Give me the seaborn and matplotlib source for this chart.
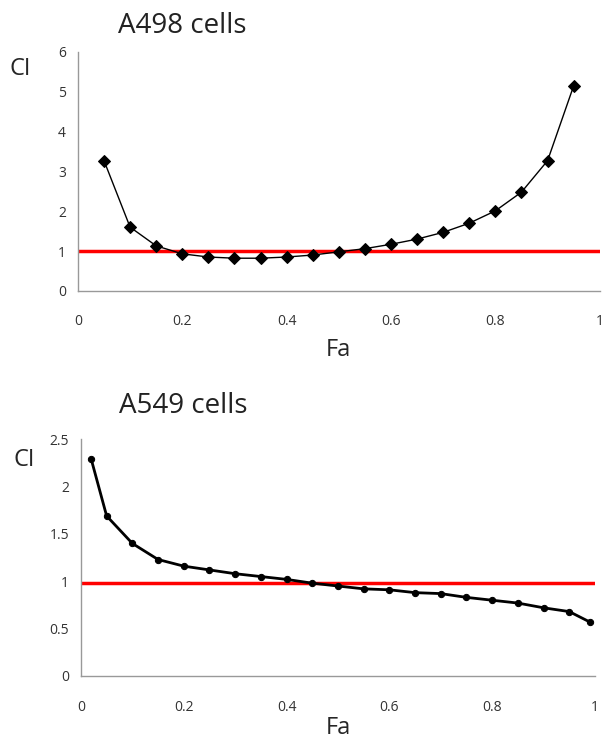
import pandas as pd
import matplotlib
matplotlib.use("Agg")
import matplotlib.pyplot as plt
import seaborn as sns

# A498 cells
fa_a498 = [0.05, 0.10, 0.15, 0.20, 0.25, 0.30, 0.35, 0.40, 0.45, 0.50,
           0.55, 0.60, 0.65, 0.70, 0.75, 0.80, 0.85, 0.90, 0.95]
ci_a498 = [3.27, 1.60, 1.13, 0.93, 0.85, 0.82, 0.82, 0.85, 0.90, 0.98,
           1.06, 1.17, 1.30, 1.47, 1.70, 2.01, 2.48, 3.27, 5.15]

# A549 cells
fa_a549 = [0.02, 0.05, 0.10, 0.15, 0.20, 0.25, 0.30, 0.35, 0.40, 0.45, 0.50,
           0.55, 0.60, 0.65, 0.70, 0.75, 0.80, 0.85, 0.90, 0.95, 0.99]
ci_a549 = [2.29, 1.69, 1.40, 1.23, 1.16, 1.12, 1.08, 1.05, 1.02, 0.98, 0.95,
           0.92, 0.91, 0.88, 0.87, 0.83, 0.80, 0.77, 0.72, 0.68, 0.57]

ref_a498 = 1.0
ref_a549 = 0.98

sns.set_style("white")
plt.rcParams["font.family"] = ["Open Sans", "DejaVu Sans"]

df1 = pd.DataFrame({"Fa": fa_a498, "CI": ci_a498})
df2 = pd.DataFrame({"Fa": fa_a549, "CI": ci_a549})

fig = plt.figure(figsize=(6.04, 7.42), dpi=100)
ax1 = fig.add_axes([0.129, 0.608, 0.864, 0.322])
ax2 = fig.add_axes([0.134, 0.089, 0.851, 0.319])


def style_axes(ax, yticks, ylabels):
    for s in ["top", "right"]:
        ax.spines[s].set_visible(False)
    for s in ["left", "bottom"]:
        ax.spines[s].set_color("#999999")
        ax.spines[s].set_linewidth(1)
    ax.set_xlim(0, 1)
    ax.set_xticks([0, 0.2, 0.4, 0.6, 0.8, 1])
    ax.set_xticklabels(["0", "0.2", "0.4", "0.6", "0.8", "1"])
    ax.set_yticks(yticks)
    ax.set_yticklabels(ylabels)
    ax.tick_params(axis="both", direction="out", length=5, width=1,
                   color="#999999", labelsize=10, labelcolor="#333333")
    ax.tick_params(axis="x", pad=12)
    ax.grid(False)


# top panel
ax1.plot([0, 1], [ref_a498, ref_a498], color="#ff0000", lw=2.5, zorder=1)
sns.lineplot(data=df1, x="Fa", y="CI", ax=ax1, color="black", lw=1,
             marker="D", markersize=6, markeredgecolor="black", zorder=3)
ax1.set_ylim(0, 6)
style_axes(ax1, [0, 1, 2, 3, 4, 5, 6], ["0", "1", "2", "3", "4", "5", "6"])
ax1.set_xlabel("Fa", fontsize=17, labelpad=6)
ax1.set_ylabel("CI", fontsize=17, rotation=0)
ax1.yaxis.set_label_coords(-0.11, 0.88)
ax1.text(0.2, 1.05, "A498 cells", transform=ax1.transAxes, fontsize=20,
         ha="center", va="bottom", color="#222222")

# bottom panel
ax2.plot([0, 1], [ref_a549, ref_a549], color="#ff0000", lw=2.5, zorder=1)
sns.lineplot(data=df2, x="Fa", y="CI", ax=ax2, color="black", lw=2,
             marker="o", markersize=4.5, markeredgecolor="black", zorder=3)
ax2.set_ylim(0, 2.5)
style_axes(ax2, [0, 0.5, 1, 1.5, 2, 2.5], ["0", "0.5", "1", "1.5", "2", "2.5"])
ax2.set_xlabel("Fa", fontsize=17, labelpad=1)
ax2.set_ylabel("CI", fontsize=17, rotation=0)
ax2.yaxis.set_label_coords(-0.11, 0.86)
ax2.text(0.2, 1.08, "A549 cells", transform=ax2.transAxes, fontsize=20,
         ha="center", va="bottom", color="#222222")

fig.savefig("out.png", dpi=100)
